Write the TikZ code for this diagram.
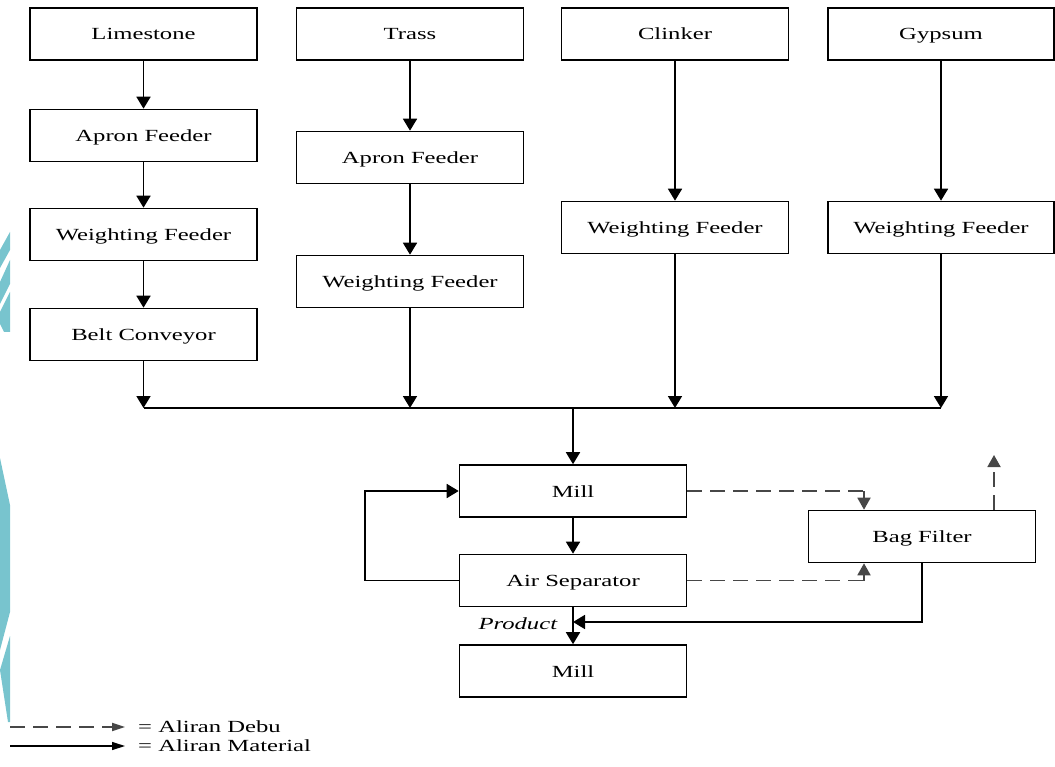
\documentclass[tikz,border=0pt]{standalone}
\usepackage{fontspec}
\setmainfont{Liberation Serif}[FakeStretch=1.45]
\usetikzlibrary{arrows.meta}
\definecolor{wmark}{RGB}{120,196,206}
\tikzset{
  unit/.style={draw=black, line width=1.6pt, minimum width=227pt, minimum height=52pt,
    inner sep=0pt, text height=13pt, text depth=1pt, font=\fontsize{17}{20}\selectfont},
  flow/.style={line width=1.8pt, -{Triangle[length=12pt,width=14pt]}},
  plain/.style={line width=1.8pt},
  dust/.style={line width=1.8pt, draw=black!72, dash pattern=on 15pt off 8pt},
  dustarrow/.style={dust, -{Triangle[length=12pt,width=13pt]}},
  legtext/.style={anchor=west, inner sep=0pt, font=\fontsize{17}{20}\selectfont}
}
\begin{document}
\begin{tikzpicture}[x=1pt, y=-1pt]
\useasboundingbox (0,0) rectangle (1055,767);

% faint logo bands at the left edge
\fill[wmark] (10,232) -- (10,250) -- (0,268) -- (0,250) -- cycle;
\fill[wmark] (10,260) -- (10,284) -- (0,304) -- (0,282) -- cycle;
\fill[wmark] (10,292) -- (10,332) -- (4,332) -- (0,324) -- (0,312) -- cycle;
\fill[wmark] (0,458) -- (10,505) -- (10,612) -- (0,650) -- cycle;
\fill[wmark] (0,670) -- (10,636) -- (10,722) -- (8,722) -- cycle;

% raw material lines
\node[unit] (lime)  at (143.5,34)  {Limestone};
\node[unit] (apL)   at (143.5,135.5) {Apron Feeder};
\node[unit] (wfL)   at (143.5,234.5) {Weighting Feeder};
\node[unit] (belt)  at (143.5,334.5) {Belt Conveyor};

\node[unit] (trass) at (410,34)    {Trass};
\node[unit] (apT)   at (410,157.5) {Apron Feeder};
\node[unit] (wfT)   at (410,281.5) {Weighting Feeder};

\node[unit] (clink) at (675,34)    {Clinker};
\node[unit] (wfC)   at (675,227.5) {Weighting Feeder};

\node[unit, minimum width=226pt] (gyp) at (941,34)    {Gypsum};
\node[unit, minimum width=226pt] (wfG) at (941,227.5) {Weighting Feeder};

% grinding section
\node[unit] (mill)  at (573,491)   {Mill};
\node[unit] (sep)   at (573,580.5) {Air Separator};
\node[unit] (mill2) at (573,671)   {Mill};
\node[unit] (bag)   at (922,536.5) {Bag Filter};

% collecting line
\coordinate (bL) at (143.5,408);
\coordinate (bT) at (410,408);
\coordinate (bC) at (675,408);
\coordinate (bG) at (941,408);
\coordinate (bM) at (573,408);

\draw[flow] (lime) -- (apL);
\draw[flow] (apL) -- (wfL);
\draw[flow] (wfL) -- (belt);
\draw[flow] (belt) -- (bL);

\draw[flow] (trass) -- (apT);
\draw[flow] (apT) -- (wfT);
\draw[flow] (wfT) -- (bT);

\draw[flow] (clink) -- (wfC);
\draw[flow] (wfC) -- (bC);

\draw[flow] (gyp) -- (wfG);
\draw[flow] (wfG) -- (bG);

\draw[plain] (bL) -- (bG);
\draw[flow] (bM) -- (mill);

% material circuit
\draw[flow] (mill) -- (sep);
\draw[flow] (sep.west) -- ++(-94,0) |- (mill.west);
\draw[flow] (sep) -- node[pos=0.45, left=15pt, font=\fontsize{17}{20}\selectfont\itshape, inner sep=0pt] {Product} (mill2);
\coordinate (ret) at (573,622);
\draw[flow] (bag.south) |- (ret);

% dust lines
\coordinate (dTop) at (864,491);
\coordinate (dBot) at (864,580.5);
\draw[dust] (mill.east) -- (dTop);
\draw[dustarrow] (dTop) -- (dTop |- bag.north);
\draw[dust] (sep.east) -- (dBot);
\draw[dustarrow] (dBot) -- (dBot |- bag.south);
\coordinate (vent) at (994,455);
\draw[dustarrow] (vent |- bag.north) -- (vent);

% legend
\coordinate (l1a) at (10,727);
\coordinate (l1b) at (125,727);
\coordinate (l2a) at (10,746);
\coordinate (l2b) at (125,746);
\draw[dust, -{Triangle[length=13pt,width=8pt]}] (l1a) -- (l1b);
\draw[plain, line width=1.3pt, -{Triangle[length=13pt,width=8pt]}] (l2a) -- (l2b);
\node[legtext] (leg1) at (138,727) {= Aliran Debu};
\node[legtext] (leg2) at (138,746) {= Aliran Material};
\end{tikzpicture}
\end{document}
